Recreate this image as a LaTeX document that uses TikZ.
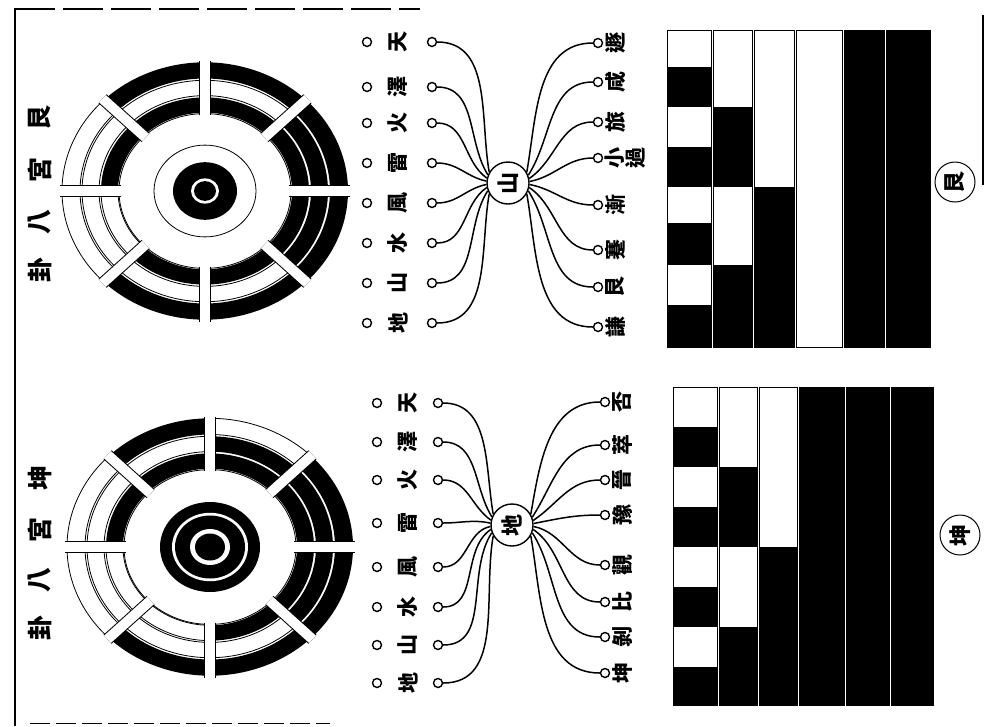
\documentclass[tikz,border=0pt]{standalone}
\usepackage{fontspec}
\usepackage{graphicx}
\usepackage{tikz}
\usetikzlibrary{positioning, calc}
\newfontfamily\cjk{Noto Sans CJK TC}
\tikzset{
    gua/.style={font=\cjk\bfseries\fontsize{21}{21}\selectfont, rotate=90, inner sep=0pt},
    title/.style={font=\cjk\bfseries\fontsize{25}{25}\selectfont, rotate=90, inner sep=0pt},
    dot/.style={circle, draw, line width=1.4pt, inner sep=0pt, minimum size=9pt},
    hub/.style={circle, draw, line width=1.4pt, inner sep=0pt, minimum size=42pt, font=\cjk\bfseries\fontsize{22}{22}\selectfont},
    seal/.style={circle, draw, line width=1pt, inner sep=0pt, minimum size=40pt, font=\cjk\bfseries\fontsize{22}{22}\selectfont},
    wire/.style={line width=1.5pt},
    spoke/.style={double=white, double distance=10pt, line width=1pt},
    yin/.style={fill=white, draw=black, line width=0.8pt},
    yang/.style={fill=black},
    cell/.style={draw=black, line width=1pt, fill=white}
}
% one line of a trigram: start angle, inner radius, outer radius, style
\newcommand{\yao}[4]{\path[#4] (#1:#2pt) arc[start angle=#1, end angle=#1+45, radius=#2pt]
    -- (#1+45:#3pt) arc[start angle=#1+45, end angle=#1, radius=#3pt] -- cycle;}
\begin{document}
\begin{tikzpicture}[x=1pt, y=-1pt]
    \fill[white] (0,0) rectangle (985,726);
    \useasboundingbox (0,0) rectangle (985,726);
    % page frame
    \draw[line width=1.6pt] (15,8) -- (15,726);
    \draw[line width=1.4pt, dash pattern=on 40pt off 8pt] (15,9) -- (420,9);
    \draw[line width=2pt] (983,15) -- (983,185);
    \draw[line width=1pt, dash pattern=on 20pt off 6pt] (30,723) -- (330,723);

    % Titles
    \foreach \t/\y [count=\i] in {艮/118, 宮/170, 八/222, 卦/270}
        \node[title] (ta\i) at (40,\y) {\t};
    \foreach \t/\y [count=\i] in {坤/478, 宮/530, 八/580, 卦/628}
        \node[title] (tb\i) at (40,\y) {\t};

    % Wheel: Gen palace
    \begin{scope}[shift={(205,191)}, yscale=0.9]
        \foreach \a/\p/\q/\r in {0/yang/yang/yang, 45/yang/yin/yang, 90/yang/yin/yang, 135/yang/yin/yin,
                                180/yin/yin/yin, 225/yang/yin/yang, 270/yang/yin/yang, 315/yang/yang/yang} {
            \yao{\a}{87}{104}{\p}
            \yao{\a}{106}{123}{\q}
            \yao{\a}{125}{143}{\r}
        }
        \draw[line width=0.8pt] (0,0) circle (86pt);
        \draw[line width=0.8pt] (0,0) circle (51pt);
        \fill (0,0) circle (32pt);
        \fill[white] (0,0) circle (14pt);
        \fill (0,0) circle (11pt);
        \foreach \a in {0,45,...,315}
            \draw[spoke] (\a:84pt) -- (\a:145pt);
    \end{scope}

    % Wheel: Kun palace
    \begin{scope}[shift={(210,547)}, yscale=0.9]
        \foreach \a/\p/\q/\r in {0/yang/yang/yang, 45/yang/yang/yin, 90/yang/yin/yang, 135/yang/yin/yin,
                                180/yin/yin/yin, 225/yin/yin/yang, 270/yang/yin/yang, 315/yang/yang/yang} {
            \yao{\a}{87}{104}{\p}
            \yao{\a}{106}{123}{\q}
            \yao{\a}{125}{143}{\r}
        }
        \draw[line width=0.8pt] (0,0) circle (86pt);
        \fill (0,0) circle (50pt);
        \fill[white] (0,0) circle (38pt);
        \fill (0,0) circle (35pt);
        \fill[white] (0,0) circle (20pt);
        \fill (0,0) circle (15pt);
        \foreach \a in {0,45,...,315}
            \draw[spoke] (\a:84pt) -- (\a:145pt);
    \end{scope}

    % Upper fan: mountain
    \node[hub] (hubA) at (508,183) {\rotatebox{90}{山}};
    \foreach \t/\y [count=\i, evaluate=\i as \ang using int(150+(\i-1)*60/7),
                    evaluate=\i as \inn using int(100+(\i-1)*160/7)] in
            {天/42, 澤/87, 火/123, 雷/163, 風/203, 水/243, 山/283, 地/323} {
        \node[dot] (al\i) at (367,\y) {};
        \node[gua] (at\i) at (398,\y) {\t};
        \node[dot] (ar\i) at (432,\y) {};
        \draw[wire] (ar\i.east) to[out=0, in=\inn] (hubA.\ang);
    }
    \foreach \t/\y [count=\i, evaluate=\i as \ang using int(30-(\i-1)*60/7),
                    evaluate=\i as \inn using int(80-(\i-1)*160/7)] in
            {遯/43, 咸/82, 旅/122, {小\\過}/158, 漸/205, 蹇/250, 艮/287, 謙/327} {
        \node[dot] (bl\i) at (598,\y) {};
        \node[gua, align=center, anchor=north] (bt\i) at (605,\y) {\t};
        \draw[wire] (hubA.\ang) to[out=\inn, in=180] (bl\i.west);
    }

    % Lower fan: earth
    \node[hub] (hubB) at (512,525) {\rotatebox{90}{地}};
    \foreach \t/\y [count=\i, evaluate=\i as \ang using int(150+(\i-1)*60/7),
                    evaluate=\i as \inn using int(100+(\i-1)*160/7)] in
            {天/403, 澤/442, 火/480, 雷/523, 風/567, 水/607, 山/645, 地/683} {
        \node[dot] (cl\i) at (377,\y) {};
        \node[gua] (ct\i) at (408,\y) {\t};
        \node[dot] (cr\i) at (438,\y) {};
        \draw[wire] (cr\i.east) to[out=0, in=\inn] (hubB.\ang);
    }
    \foreach \t/\y [count=\i, evaluate=\i as \ang using int(30-(\i-1)*60/7),
                    evaluate=\i as \inn using int(80-(\i-1)*160/7)] in
            {否/402, 萃/445, 晉/480, 豫/515, 觀/565, 比/602, 剝/637, 坤/673} {
        \node[dot] (dl\i) at (605,\y) {};
        \node[gua, anchor=north] (dt\i) at (612,\y) {\t};
        \draw[wire] (hubB.\ang) to[out=\inn, in=180] (dl\i.west);
    }

    % Line tables
    \foreach \xa/\xb in {667/711, 713/752, 754/794, 796/842, 844/884, 886/930}
        \draw[cell] (\xa,30) rectangle (\xb,347);
    \foreach \ya/\yb in {67/107, 147/187, 223/265, 305/347} \fill (667,\ya) rectangle (711,\yb);
    \foreach \ya/\yb in {107/187, 265/347} \fill (713,\ya) rectangle (752,\yb);
    \fill (754,187) rectangle (794,347);
    \fill (844,30) rectangle (884,347);
    \fill (886,30) rectangle (930,347);
    \node[seal] (sealA) at (955,182) {\rotatebox{90}{艮}};

    \foreach \xa/\xb in {673/717, 719/757, 759/797, 799/844, 846/889, 891/933}
        \draw[cell] (\xa,387) rectangle (\xb,705);
    \foreach \ya/\yb in {427/467, 507/547, 587/627, 667/705} \fill (673,\ya) rectangle (717,\yb);
    \foreach \ya/\yb in {467/547, 627/705} \fill (719,\ya) rectangle (757,\yb);
    \fill (759,547) rectangle (797,705);
    \fill (799,387) rectangle (844,705);
    \fill (846,387) rectangle (889,705);
    \fill (891,387) rectangle (933,705);
    \node[seal] (sealB) at (960,535) {\rotatebox{90}{坤}};
\end{tikzpicture}
\end{document}
